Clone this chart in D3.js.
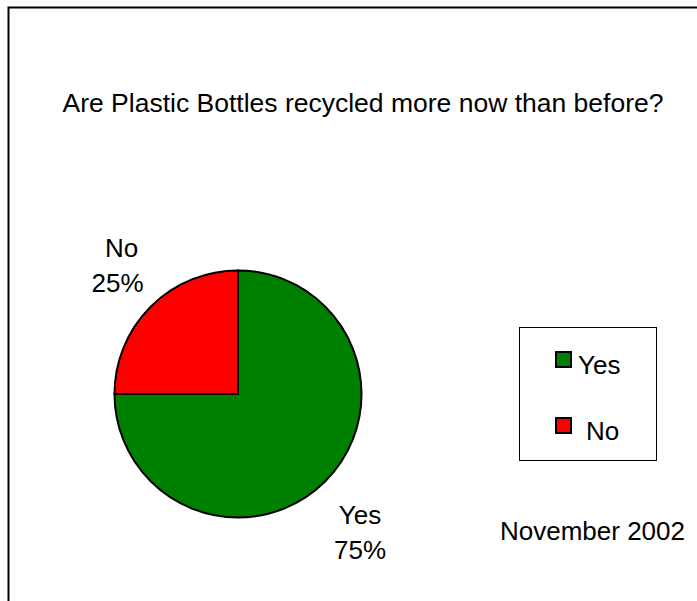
<!DOCTYPE html>
<html><head><meta charset="utf-8">
<script src="https://cdn.jsdelivr.net/npm/d3@7/dist/d3.min.js"></script>
<style>body{margin:0;background:#fff}svg{display:block}text{font-family:"Liberation Sans",Arial,sans-serif;fill:#000}</style>
</head><body>
<script>
const categories = ["Yes", "No"];
const values = [75, 25];
const colors = ["#008000", "#FF0000"];
const title = "Are Plastic Bottles recycled more now than before?";
const note = "November 2002";

const W = 697, H = 601;
const svg = d3.select("body").append("svg").attr("width", W).attr("height", H);

// frame
svg.append("path").attr("d", `M8.5,${H+5} V7.5 H${W+5}`).attr("fill","none").attr("stroke","#000").attr("stroke-width",2);

svg.append("text").attr("x", 363).attr("y", 112).attr("text-anchor","middle")
  .style("font-size","26.5px").text(title);

const cx = 238, cy = 394, r = 123.5;
const pie = d3.pie().sort(null).startAngle(0).endAngle(2*Math.PI)(values);
const arc = d3.arc().innerRadius(0).outerRadius(r);
const g = svg.append("g").attr("transform", `translate(${cx},${cy})`);
g.selectAll("path").data(pie).join("path")
  .attr("d", arc).attr("fill", (d,i)=>colors[i]).attr("stroke","#000").attr("stroke-width",2);

// slice labels: [name x, name baseline, pct x]
const labelPos = [[360, 524, 360], [121.5, 257, 117.5]];
pie.forEach((d,i)=>{
  const t = svg.append("text").attr("text-anchor","middle").style("font-size","26px");
  t.append("tspan").attr("x", labelPos[i][0]).attr("y", labelPos[i][1]).text(categories[i]);
  t.append("tspan").attr("x", labelPos[i][2]).attr("dy", 35).text(values[i] + "%");
});

// legend
svg.append("rect").attr("x",519.5).attr("y",327.5).attr("width",137).attr("height",133)
  .attr("fill","#fff").attr("stroke","#000").attr("stroke-width",1);
const legY = [352, 418];
const legTX = [578, 586];
categories.forEach((c,i)=>{
  svg.append("rect").attr("x",556).attr("y",legY[i]).attr("width",15).attr("height",15)
    .attr("fill",colors[i]).attr("stroke","#000").attr("stroke-width",2);
  svg.append("text").attr("x",legTX[i]).attr("y",legY[i]+21.5).style("font-size","26px").text(c);
});

svg.append("text").attr("x", 592.5).attr("y", 540).attr("text-anchor","middle").style("font-size","26px").text(note);
</script>
</body></html>
